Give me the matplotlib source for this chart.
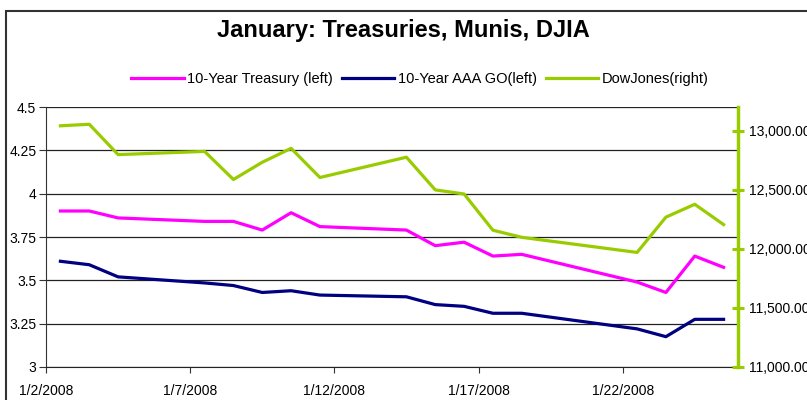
import matplotlib
matplotlib.use("Agg")
import matplotlib.pyplot as plt
import matplotlib.dates as mdates
from matplotlib.patches import Rectangle
import numpy as np
from datetime import datetime, timedelta

plt.rcParams['font.family'] = ['Liberation Sans', 'DejaVu Sans']

### data (trading days, January 2008)
days = [2, 3, 4, 7, 8, 9, 10, 11, 14, 15, 16, 17, 18, 22, 23, 24, 25]
treasury = [3.90, 3.90, 3.86, 3.84, 3.84, 3.79, 3.89, 3.81, 3.79, 3.70,
            3.72, 3.64, 3.65, 3.49, 3.43, 3.64, 3.575]
aaa_go = [3.61, 3.59, 3.52, 3.485, 3.47, 3.43, 3.44, 3.415, 3.405, 3.36,
          3.35, 3.31, 3.31, 3.22, 3.175, 3.275, 3.275]
dow = [13044, 13057, 12800, 12827, 12589, 12735, 12853, 12606, 12778, 12501,
       12466, 12159, 12099, 11971, 12270, 12379, 12207]
tick_days = [2, 7, 12, 17, 22]
tick_labels = ["1/2/2008", "1/7/2008", "1/12/2008", "1/17/2008", "1/22/2008"]
left_ticks = [3, 3.25, 3.5, 3.75, 4, 4.25, 4.5]
left_labels = ["3", "3.25", "3.5", "3.75", "4", "4.25", "4.5"]
right_ticks = [11000, 11500, 12000, 12500, 13000]

MAGENTA = "#FF00FF"
NAVY = "#000080"
GREEN = "#99CC00"

# points sit in the middle of each day slot (Excel date axis)
x = [mdates.date2num(datetime(2008, 1, d) + timedelta(hours=12)) for d in days]
xt = [mdates.date2num(datetime(2008, 1, d)) for d in tick_days]

fig = plt.figure(figsize=(8.07, 4.0), dpi=100)
fig.patches.append(Rectangle((6 / 807, -0.1), 1.2, 1 - 11 / 400 + 0.1,
                             transform=fig.transFigure, fill=False,
                             edgecolor="#333333", linewidth=1.5))

ax = fig.add_axes([46 / 807, 1 - 367 / 400, (738 - 46) / 807, (367 - 107) / 400])
ax2 = ax.twinx()

l1, = ax.plot(x, treasury, color=MAGENTA, lw=2.3, label="10-Year Treasury (left)", zorder=3)
l2, = ax.plot(x, aaa_go, color=NAVY, lw=2.3, label="10-Year AAA GO(left)", zorder=3)
l3, = ax2.plot(x, dow, color=GREEN, lw=2.3, label="DowJones(right)")

ax.set_xlim(mdates.date2num(datetime(2008, 1, 2)), mdates.date2num(datetime(2008, 1, 26)))
ax.set_ylim(3, 4.5)
ax2.set_ylim(11000, 11000 + 260 / 236 * 2000)

ax.set_xticks(xt)
ax.set_xticklabels(tick_labels, fontsize=10)
ax.set_yticks(left_ticks)
ax.set_yticklabels(left_labels, fontsize=10)
ax.yaxis.grid(True, color="#222222", lw=0.9)
ax.set_axisbelow(True)
ax.tick_params(axis="x", length=4, color="#333333", pad=8)
ax.tick_params(axis="y", length=5, color="#333333", pad=2)

ax2.set_yticks(right_ticks)
ax2.set_yticklabels(["{:,.2f}".format(v) for v in right_ticks], fontsize=10)
ax2.tick_params(axis="y", direction="inout", length=8, width=2.2, color=GREEN, pad=4)

for a in (ax, ax2):
    a.spines["top"].set_visible(False)
    a.spines["left"].set_color("#333333")
    a.spines["bottom"].set_color("#222222")
    a.spines["right"].set_visible(False)
ax2.spines["right"].set_visible(True)
ax2.spines["right"].set_color(GREEN)
ax2.spines["right"].set_linewidth(2.5)
ax2.spines["left"].set_visible(False)
ax2.spines["bottom"].set_visible(False)

fig.text(0.500, 1 - 31 / 400, "January: Treasuries, Munis, DJIA", ha="center",
         va="center", fontsize=17, fontweight="bold")
fig.legend(handles=[l1, l2, l3], loc="center", bbox_to_anchor=(420 / 807, 1 - 79 / 400),
           ncol=3, frameon=False, fontsize=10.5, handlelength=3.6, handletextpad=0.25,
           columnspacing=0.6)

fig.savefig("out.png", dpi=100)
